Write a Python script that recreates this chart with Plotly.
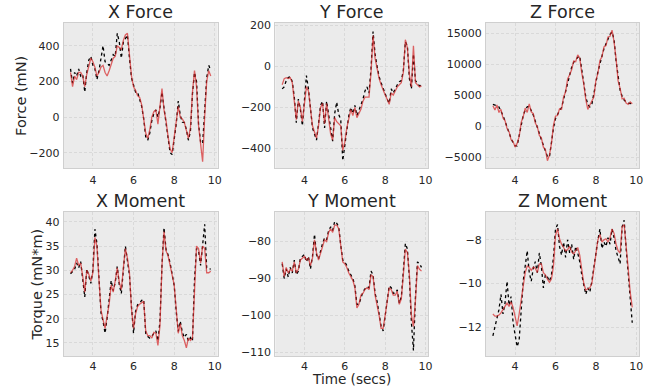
import plotly.graph_objects as go

time_s = [2.9, 3.0, 3.1, 3.2, 3.3, 3.4, 3.5, 3.6, 3.7, 3.8, 3.9,
          4.0, 4.1, 4.2, 4.3, 4.4, 4.5, 4.6, 4.7, 4.8, 4.9,
          5.0, 5.1, 5.2, 5.3, 5.4, 5.5, 5.6, 5.7, 5.8, 5.9,
          6.0, 6.1, 6.2, 6.3, 6.4, 6.5, 6.6, 6.7, 6.8, 6.9,
          7.0, 7.1, 7.2, 7.3, 7.4, 7.5, 7.6, 7.7, 7.8, 7.9,
          8.0, 8.1, 8.2, 8.3, 8.4, 8.5, 8.6, 8.7, 8.8, 8.9,
          9.0, 9.1, 9.2, 9.3, 9.4, 9.5, 9.6, 9.7, 9.8]

# measured (black dotted) and model (red) series
fx_meas = [270, 190, 250, 230, 270, 230, 240, 140, 250, 320, 340,
           290, 270, 210, 260, 330, 400, 310, 300, 290, 320,
           350, 340, 470, 420, 330, 420, 440, 460, 330, 220,
           180, 140, 140, 100, 60, -10, -110, -130, -90, -20,
           20, 40, 0, 50, 140, 50, -40, -130, -200, -210,
           -130, -40, 90, 10, -30, -30, -70, -130, -80, 130,
           250, 200, -40, -140, -150, 50, 220, 290, 260]
fx_pred = [250, 170, 230, 210, 250, 250, 230, 170, 240, 290, 330,
           310, 280, 230, 250, 280, 290, 250, 230, 260, 300,
           330, 340, 400, 390, 380, 430, 460, 470, 350, 230,
           170, 150, 120, 110, 70, 0, -90, -120, -70, 0,
           30, 40, -40, 60, 160, 40, -20, -110, -180, -200,
           -110, -30, 60, 0, -10, -30, -80, -120, -60, 140,
           260, 170, -50, -170, -250, 0, 200, 260, 230]

fy_meas = [-110, -100, -70, -55, -50, -75, -150, -275, -160, -210, -290,
           -170, -45, -110, -210, -300, -330, -360, -280, -190, -170,
           -300, -170, -240, -320, -365, -230, -175, -235, -260, -460,
           -380, -300, -240, -200, -230, -190, -240, -215, -190, -160,
           -120, -100, -130, -10, 170, 60, 0, -50, -80, -110,
           -130, -160, -180, -110, -130, -105, -90, -75, -70, -20,
           120, 100, -60, -110, 60, -70, -80, -95, -90]
fy_pred = [-90, -60, -55, -60, -55, -80, -170, -260, -170, -200, -270,
           -180, -100, -120, -220, -290, -320, -350, -290, -200, -180,
           -280, -180, -250, -330, -360, -250, -270, -280, -290, -410,
           -370, -300, -250, -210, -240, -200, -250, -230, -210, -170,
           -150, -150, -150, -30, 150, 40, -20, -60, -90, -120,
           -140, -160, -185, -130, -140, -120, -100, -90, -80, -30,
           130, 90, -40, -100, 100, -80, -90, -100, -95]

fz_meas = [3500, 3450, 3300, 3100, 2500, 1700, 800, -200, -1200, -2000, -2700,
           -3200, -3200, -1500, 300, 1700, 2600, 3100, 3200, 2600, 1800,
           800, -300, -1200, -2200, -3100, -4000, -4900, -5000, -2600, -300,
           1200, 2000, 2500, 3000, 4300, 5800, 7200, 8500, 9500, 10300,
           10800, 11100, 11300, 9000, 6500, 4700, 3500, 3100, 3500, 5000,
           7000, 8800, 10200, 11500, 12500, 13300, 14100, 14800, 15200, 14000,
           10500, 7700, 5800, 4800, 4200, 3900, 3700, 3650, 3700]
fz_pred = [3300, 2600, 3400, 2200, 2700, 1300, 900, -400, -900, -2200, -2500,
           -3400, -2800, -1700, 600, 1500, 2900, 2200, 3600, 2300, 2000,
           500, -100, -1500, -1900, -3400, -3800, -5600, -4700, -2800, 100,
           1600, 1700, 2800, 2700, 4700, 5500, 7600, 8300, 9100, 10500,
           10400, 11500, 11000, 8600, 6800, 4300, 2700, 3400, 4000, 4700,
           7400, 8500, 10600, 11200, 12800, 13000, 14400, 14500, 15500, 13600,
           10900, 7300, 6100, 4400, 4500, 3700, 3500, 3900, 3600]

mx_meas = [29.3, 29.8, 30.2, 31.5, 30.5, 31.8, 28.5, 24.5, 30.3, 28.8, 27.3,
           30.0, 38.5, 35.5, 27.6, 21.2, 19.5, 17.0, 20.1, 23.5, 27.9,
           25.8, 27.5, 30.8, 27.0, 25.2, 31.0, 35.0, 32.0, 29.0, 22.5,
           17.0, 21.5, 22.9, 23.2, 23.8, 24.0, 17.0, 16.3, 16.0, 16.4,
           17.0, 17.5, 15.4, 19.5, 31.0, 38.8, 34.3, 33.2, 31.5, 29.4,
           26.9, 21.5, 17.4, 19.5, 17.2, 16.1, 16.8, 15.4, 16.1, 15.4,
           28.0, 34.5, 34.0, 31.0, 36.0, 39.5, 30.5, 30.2, 30.3]
mx_pred = [29.5, 30.0, 30.8, 32.5, 31.0, 31.5, 28.8, 25.5, 30.0, 29.2, 27.8,
           29.5, 36.8, 35.0, 28.0, 21.8, 19.8, 18.0, 20.5, 23.0, 27.0,
           25.5, 27.8, 30.5, 27.5, 26.0, 30.5, 34.5, 32.5, 29.5, 22.0,
           18.0, 21.0, 22.5, 23.0, 23.3, 23.6, 17.5, 16.5, 16.5, 16.0,
           17.2, 17.0, 14.5, 18.5, 31.0, 38.0, 34.0, 33.0, 31.0, 29.0,
           27.0, 22.0, 17.0, 19.0, 16.5, 15.5, 14.0, 16.0, 15.5, 16.0,
           27.0, 35.0, 34.5, 31.5, 35.0, 34.5, 29.5, 29.5, 29.8]

my_meas = [-86, -90, -87.4, -89.6, -87, -88.5, -85, -89, -88, -84.5, -84,
           -83.5, -85.5, -84, -87.4, -84, -78, -83.5, -84.7, -82.5, -80.5,
           -79, -79.5, -77, -76, -77, -74.5, -75, -76, -81, -85,
           -85.5, -86.5, -88, -89, -90, -92, -97, -97, -95, -93.6,
           -92.8, -92.2, -92.5, -88, -89, -94, -96.2, -99.8, -103, -104.2,
           -100.5, -96, -92, -92.5, -94, -94, -93.1, -96.7, -95, -88,
           -80.5, -82, -90, -102, -109.5, -95, -85.5, -86, -87]
my_pred = [-85.5, -89.5, -87, -88.5, -87.5, -88, -85.5, -88.5, -87.5, -85, -84.5,
           -84, -85, -84.5, -86.5, -84.5, -79.5, -83, -85, -83, -81,
           -79.5, -80, -77.5, -76.5, -77.5, -75.5, -75.5, -76.5, -81.5, -85.5,
           -86, -87, -88.5, -89.5, -90.5, -92.5, -98, -97, -94.5, -94,
           -93, -92.5, -93, -89, -89.5, -94.5, -97, -100, -103.5, -103.5,
           -100, -96.5, -92.5, -93, -94.5, -94.5, -93.5, -97, -95.5, -89,
           -82, -83, -89, -100, -103, -96, -86.5, -87.5, -88]

mz_meas = [-12.4, -12.0, -11.7, -11.2, -10.5, -11.4, -10.9, -9.9, -11.0, -10.6, -11.8,
           -12.3, -12.9, -12.6, -11.0, -9.9, -9.2, -8.5, -9.5, -9.9, -9.3,
           -9.0, -9.5, -8.6, -9.2, -10.2, -9.6, -9.7, -9.9, -9.6, -8.8,
           -7.5, -7.3, -8.3, -8.7, -8.1, -8.8, -8.0, -8.6, -8.2, -8.9,
           -8.3, -8.6, -9.0, -9.6, -10.1, -10.5, -10.2, -10.4, -9.9, -9.2,
           -8.5, -8.0, -7.5, -8.4, -8.1, -8.3, -7.9, -8.2, -7.5, -7.9,
           -8.5, -8.8, -9.1, -7.4, -7.1, -8.4, -9.5, -10.7, -11.8]
mz_pred = [-11.4, -11.5, -11.5, -11.45, -11.35, -11.2, -11.05, -10.9, -11.05, -10.85, -11.1,
           -11.5, -11.95, -11.4, -10.8, -10.1, -9.5, -9.2, -9.25, -9.4, -9.25,
           -9.3, -9.5, -9.1, -9.1, -9.5, -9.6, -9.8, -9.95, -9.8, -9.2,
           -7.8, -7.5, -7.95, -8.2, -8.35, -8.5, -8.45, -8.3, -8.55, -8.65,
           -8.5, -8.35, -8.7, -9.3, -10.0, -10.3, -10.25, -10.2, -10.0, -9.3,
           -8.6, -8.0, -7.75, -8.1, -8.0, -7.95, -8.1, -7.9, -7.5, -7.7,
           -8.2, -8.5, -8.6, -7.4, -7.3, -8.2, -9.3, -10.4, -11.1]

titles = ["X Force", "Y Force", "Z Force", "X Moment", "Y Moment", "Z Moment"]
meas = [fx_meas, fy_meas, fz_meas, mx_meas, my_meas, mz_meas]
pred = [fx_pred, fy_pred, fz_pred, mx_pred, my_pred, mz_pred]
y_ticks = [[-200, 0, 200, 400], [-400, -200, 0, 200],
           [-5000, 0, 5000, 10000, 15000], [15, 20, 25, 30, 35, 40],
           [-110, -100, -90, -80], [-12, -10, -8]]
x_ticks = [4, 6, 8, 10]
y_ranges = [[-288, 529], [-498, 213], [-6840, 16700],
            [12.2, 42.1], [-111.15, -71.9], [-13.35, -6.71]]
x_range = [2.56, 10.14]


def label(v):
    return str(v).replace("-", "\u2212")


W, H = 659, 391
col_px = [(64, 219), (277, 431), (489, 643)]
row_px = [(20, 168), (212, 359)]

FONT = "DejaVu Sans"
TXT = "#262626"
BG = "#EBEBEB"
GRID = "#D9D9D9"

fig = go.Figure()
layout = dict(width=W, height=H, margin=dict(l=0, r=0, t=0, b=0),
              paper_bgcolor="white", plot_bgcolor=BG, showlegend=False,
              font=dict(family=FONT, color=TXT, size=11))
annotations = []
for i in range(6):
    r, c = divmod(i, 3)
    x0, x1 = col_px[c]
    y0, y1 = row_px[r]
    xd = [x0 / W, x1 / W]
    yd = [1 - y1 / H, 1 - y0 / H]
    sfx = "" if i == 0 else str(i + 1)
    common = dict(showgrid=True, gridcolor=GRID, griddash="3px,2px", gridwidth=0.8,
                  zeroline=False, showline=True, linecolor="#CFCFCF", linewidth=1,
                  mirror=True, ticks="outside",
                  tickcolor="rgba(0,0,0,0)",
                  tickfont=dict(size=11, color=TXT, family=FONT))
    layout["xaxis" + sfx] = dict(domain=xd, range=x_range, tickvals=x_ticks,
                                 ticktext=[label(v) for v in x_ticks],
                                 ticklen=1,
                                 anchor="y" + sfx, **common)
    layout["yaxis" + sfx] = dict(domain=yd, range=y_ranges[i], tickvals=y_ticks[i],
                                 ticktext=[label(v) for v in y_ticks[i]],
                                 ticklen=1, anchor="x" + sfx, **common)
    fig.add_trace(go.Scatter(x=time_s, y=meas[i], mode="lines",
                             line=dict(color="black", width=1.3, dash="dot"),
                             xaxis="x" + sfx, yaxis="y" + sfx))
    fig.add_trace(go.Scatter(x=time_s, y=pred[i], mode="lines",
                             line=dict(color="rgba(214,39,40,0.7)", width=1.3),
                             xaxis="x" + sfx, yaxis="y" + sfx))
    annotations.append(dict(text=titles[i], xref="paper", yref="paper",
                            x=(xd[0] + xd[1]) / 2, y=yd[1], xanchor="center",
                            yanchor="bottom", yshift=-1, showarrow=False,
                            font=dict(size=17.5, color=TXT, family=FONT)))

annotations.append(dict(text="Force (mN)", xref="paper", yref="paper",
                        x=20.5 / W, y=1 - 94 / H, textangle=-90, showarrow=False,
                        xanchor="center", yanchor="middle",
                        font=dict(size=14.5, color=TXT, family=FONT)))
annotations.append(dict(text="Torque (mN*m)", xref="paper", yref="paper",
                        x=37 / W, y=1 - 286 / H, textangle=-90, showarrow=False,
                        xanchor="center", yanchor="middle",
                        font=dict(size=14.5, color=TXT, family=FONT)))
annotations.append(dict(text="Time (secs)", xref="paper", yref="paper",
                        x=354 / W, y=0, showarrow=False,
                        xanchor="center", yanchor="bottom", borderpad=0,
                        font=dict(size=13.6, color=TXT, family=FONT)))
layout["annotations"] = annotations
fig.update_layout(**layout)

# pull the bottom-row x tick labels a touch closer to their axes
for name in ["xaxis4", "xaxis5", "xaxis6"]:
    try:
        fig.layout[name].ticklabelstandoff = -2
    except Exception:
        pass

fig.write_html("out.html", config={"displayModeBar": False},
               post_script="document.body.style.margin='0';"
                           "document.body.style.overflow='hidden';")
